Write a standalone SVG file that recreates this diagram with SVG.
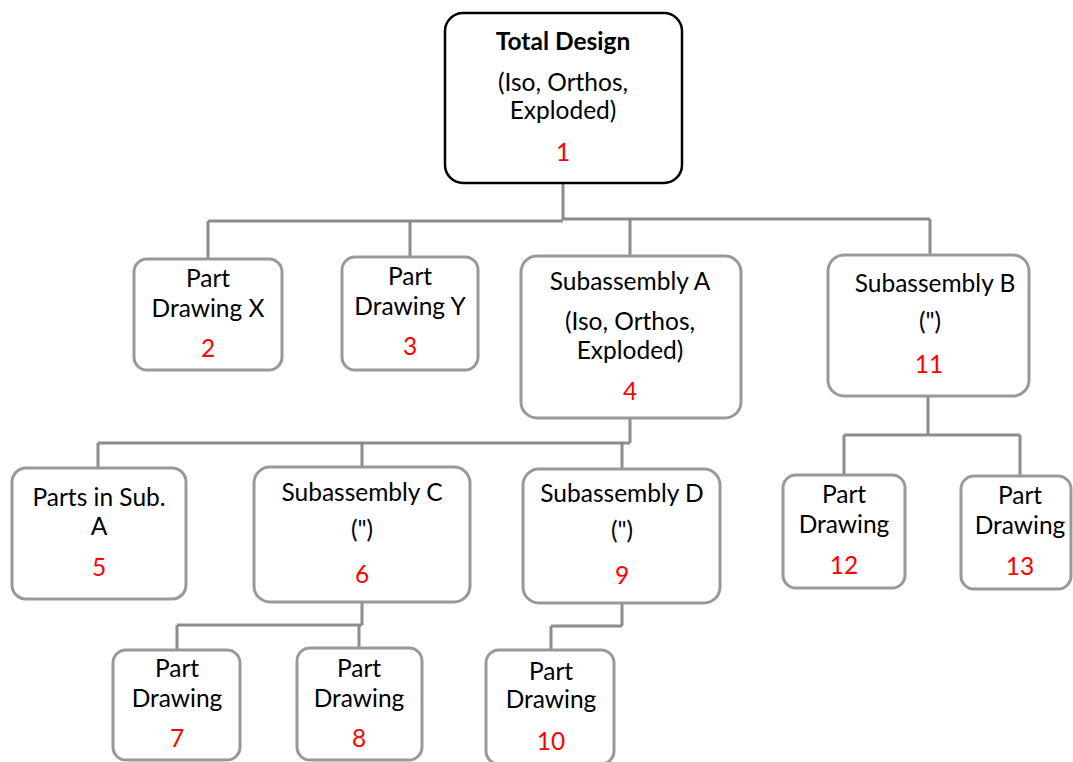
<svg xmlns="http://www.w3.org/2000/svg" width="1073" height="762" viewBox="0 0 1073 762">
<style>
.bx{fill:#fff;stroke:#999;stroke-width:3}
.top{fill:#fff;stroke:#000;stroke-width:2.5}
.t{font-family:Lato,"Liberation Sans",sans-serif;font-size:24.5px;fill:#000;text-anchor:middle}
.b{font-weight:bold}
.n{fill:#ff0000}
.c{fill:none;stroke:#8c8c8c;stroke-width:3}
</style>
<rect width="1073" height="762" fill="#fff"/>
<g id="connectors">
<path class="c" d="M563,183V220M208,221H563M563,219H930M208,221V259M410,220V257M630,219V256M930,219V255"/>
<path class="c" d="M630,418V443M98,443H630M98,443V468M362,443V467M622,443V469"/>
<path class="c" d="M928,396V435M844,435H1020M844,435V475M1020,435V476"/>
<path class="c" d="M362,602V625M177,625H362M177,625V650M359,625V648"/>
<path class="c" d="M622,603V626M551,626H622M551,626V650"/>
</g>
<g id="n1">
<rect class="top" x="445" y="13" width="237" height="170" rx="18"/>
<text class="t b" x="563" y="50">Total Design</text>
<text class="t" x="563" y="91">(Iso, Orthos,</text>
<text class="t" x="563" y="119">Exploded)</text>
<text class="t n" x="563" y="161">1</text>
</g>
<g id="n2">
<rect class="bx" x="134" y="259" width="148" height="111" rx="13"/>
<text class="t" x="208" y="287">Part</text>
<text class="t" x="208" y="317">Drawing X</text>
<text class="t n" x="208" y="357">2</text>
</g>
<g id="n3">
<rect class="bx" x="342" y="257" width="136" height="113" rx="13"/>
<text class="t" x="410" y="285">Part</text>
<text class="t" x="410" y="315">Drawing Y</text>
<text class="t n" x="410" y="355">3</text>
</g>
<g id="n4">
<rect class="bx" x="521" y="256" width="220" height="162" rx="16"/>
<text class="t" x="630" y="290">Subassembly A</text>
<text class="t" x="630" y="330">(Iso, Orthos,</text>
<text class="t" x="630" y="359">Exploded)</text>
<text class="t n" x="630" y="400">4</text>
</g>
<g id="n11">
<rect class="bx" x="828" y="255" width="201" height="141" rx="16"/>
<text class="t" x="935" y="292">Subassembly B</text>
<text class="t" x="930" y="330">(")</text>
<text class="t n" x="929" y="373">11</text>
</g>
<g id="n5">
<rect class="bx" x="12" y="468" width="174" height="131" rx="14"/>
<text class="t" x="99" y="506">Parts in Sub.</text>
<text class="t" x="99" y="535">A</text>
<text class="t n" x="99" y="576">5</text>
</g>
<g id="n6">
<rect class="bx" x="254" y="467" width="216" height="135" rx="16"/>
<text class="t" x="362" y="501">Subassembly C</text>
<text class="t" x="362" y="538">(")</text>
<text class="t n" x="362" y="583">6</text>
</g>
<g id="n9">
<rect class="bx" x="523" y="469" width="197" height="134" rx="16"/>
<text class="t" x="622" y="502">Subassembly D</text>
<text class="t" x="622" y="539">(")</text>
<text class="t n" x="622" y="584">9</text>
</g>
<g id="n12">
<rect class="bx" x="783" y="475" width="122" height="113" rx="13"/>
<text class="t" x="844" y="503">Part</text>
<text class="t" x="844" y="533">Drawing</text>
<text class="t n" x="844" y="574">12</text>
</g>
<g id="n13">
<rect class="bx" x="961" y="476" width="110" height="113" rx="13"/>
<text class="t" x="1020" y="504">Part</text>
<text class="t" x="1020" y="534">Drawing</text>
<text class="t n" x="1020" y="575">13</text>
</g>
<g id="n7">
<rect class="bx" x="113" y="650" width="127" height="110" rx="13"/>
<text class="t" x="177" y="677">Part</text>
<text class="t" x="177" y="707">Drawing</text>
<text class="t n" x="177" y="747">7</text>
</g>
<g id="n8">
<rect class="bx" x="297" y="648" width="125" height="112" rx="13"/>
<text class="t" x="359" y="677">Part</text>
<text class="t" x="359" y="707">Drawing</text>
<text class="t n" x="359" y="747">8</text>
</g>
<g id="n10">
<rect class="bx" x="486" y="650" width="128" height="114" rx="13"/>
<text class="t" x="551" y="680">Part</text>
<text class="t" x="551" y="708">Drawing</text>
<text class="t n" x="551" y="750">10</text>
</g>
</svg>
